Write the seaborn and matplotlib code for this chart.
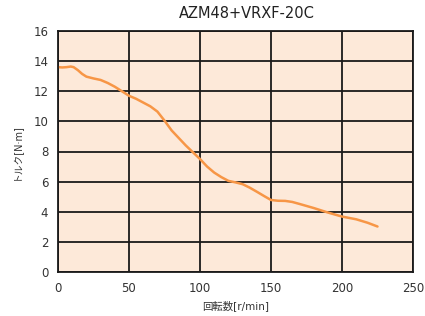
import numpy as np
import pandas as pd
import seaborn as sns
import matplotlib.pyplot as plt

# speed [r/min] vs torque [N·m]
speed = [0, 3, 6, 9, 11, 14, 17, 20, 25, 30, 35, 40, 45, 50, 55, 60, 65,
         70, 75, 80, 85, 90, 95, 100, 105, 110, 115, 120, 125, 130, 135,
         140, 145, 150, 155, 160, 165, 170, 180, 190, 200, 210, 218, 225]
torque = [13.6, 13.58, 13.6, 13.64, 13.6, 13.4, 13.15, 12.97, 12.85, 12.75,
          12.55, 12.3, 12.0, 11.7, 11.5, 11.25, 11.0, 10.65, 10.05, 9.4,
          8.9, 8.4, 7.95, 7.5, 7.0, 6.6, 6.3, 6.05, 5.95, 5.83, 5.6, 5.33,
          5.05, 4.78, 4.73, 4.72, 4.65, 4.52, 4.25, 3.95, 3.68, 3.5, 3.27,
          3.02]

title = "AZM48+VRXF-20C"
xlabel = "回転数[r/min]"
ylabel = "トルク[N·m]"

sns.set_style("white")
plt.rcParams["font.family"] = ["DejaVu Sans", "Noto Sans CJK JP"]

df = pd.DataFrame({"speed": speed, "torque": torque})

fig = plt.figure(figsize=(4.25, 3.16), dpi=100)
ax = fig.add_axes([58 / 425, 1 - 272 / 316, 355 / 425, 241 / 316])
ax.set_facecolor("#fde9d9")

sns.lineplot(data=df, x="speed", y="torque", ax=ax, color="#f79646",
             linewidth=1.8)

ax.set_xlim(0, 250)
ax.set_ylim(0, 16)
ax.set_xticks(np.arange(0, 251, 50))
ax.set_yticks(np.arange(0, 17, 2))
ax.grid(True, color="#1a1a1a", linewidth=1.3)
ax.set_axisbelow(True)
for s in ax.spines.values():
    s.set_color("#1a1a1a")
    s.set_linewidth(1.3)
ax.tick_params(length=0, labelsize=8.5, colors="#333333", pad=7)

fig.text(247 / 425, 1 - 14 / 316, title, fontsize=10.5, color="#222222",
         ha="center", va="center")
ax.set_xlabel(xlabel, fontsize=7.5, color="#333333", labelpad=4)
ax.set_ylabel(ylabel, fontsize=7, color="#333333", labelpad=8)

plt.savefig("out.png", dpi=100)
